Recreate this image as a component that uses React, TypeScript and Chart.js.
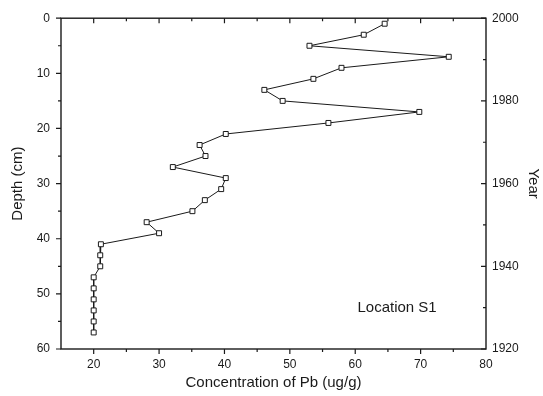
import React, { useEffect, useRef } from 'react';
import { Chart, registerables } from 'chart.js';
Chart.register(...registerables);

const depthCm = [1, 3, 5, 7, 9, 11, 13, 15, 17, 19, 21, 23, 25, 27, 29, 31, 33, 35, 37, 39, 41, 43, 45, 47, 49, 51, 53, 55, 57];
const pbConc = [64.5, 61.3, 53.0, 74.3, 57.9, 53.6, 46.1, 48.9, 69.8, 55.9, 40.2, 36.2, 37.1, 32.1, 40.2, 39.5, 37.0, 35.1, 28.1, 30.0, 21.1, 21.0, 21.0, 20.0, 20.0, 20.0, 20.0, 20.0, 20.0];
const xRange = [15, 80];
const depthRange = [0, 60];
const yearRange = [1920, 2000];
const annotation = 'Location S1';

const FONT = "'Liberation Sans', Arial, sans-serif";
const INK = '#1a1a1a';

const framePlugin = {
  id: 'frameTicks',
  afterDraw(chart: any) {
    const ctx = chart.ctx;
    const a = chart.chartArea;
    const xs = chart.scales.x;
    const ys = chart.scales.y;
    const y2 = chart.scales.y2;
    ctx.save();
    ctx.strokeStyle = INK;
    ctx.lineWidth = 1.4;
    ctx.strokeRect(a.left, a.top, a.right - a.left, a.bottom - a.top);
    ctx.lineWidth = 1.2;
    ctx.beginPath();
    for (let v = xRange[0] + 5; v < xRange[1]; v += 5) {
      const px = xs.getPixelForValue(v);
      const len = v % 10 === 0 ? 5 : 3;
      ctx.moveTo(px, a.bottom);
      ctx.lineTo(px, a.bottom + len);
      ctx.moveTo(px, a.top);
      ctx.lineTo(px, a.top + len);
    }
    for (let v = depthRange[0]; v <= depthRange[1]; v += 5) {
      const py = ys.getPixelForValue(v);
      const len = v % 10 === 0 ? 5 : 3;
      ctx.moveTo(a.left, py);
      ctx.lineTo(a.left - len, py);
    }
    for (let v = yearRange[0]; v <= yearRange[1]; v += 10) {
      const py = y2.getPixelForValue(v);
      const len = v % 20 === 0 ? 5 : 3;
      ctx.moveTo(a.right, py);
      ctx.lineTo(a.right - len, py);
    }
    ctx.stroke();
    ctx.fillStyle = INK;
    ctx.font = `15px ${FONT}`;
    ctx.textAlign = 'center';
    ctx.textBaseline = 'middle';
    ctx.fillText(annotation, xs.getPixelForValue(66.4), ys.getPixelForValue(52.6));
    ctx.restore();
  },
};

export default function App() {
  const ref = useRef<HTMLCanvasElement>(null);
  useEffect(() => {
    const chart = new Chart(ref.current!, {
      type: 'scatter',
      data: {
        datasets: [
          {
            data: depthCm.map((d, i) => ({ x: pbConc[i], y: d })),
            showLine: true,
            borderColor: INK,
            borderWidth: 1,
            pointStyle: 'rect',
            pointRadius: 3.5,
            pointBackgroundColor: '#ffffff',
            pointBorderColor: INK,
            pointBorderWidth: 1,
            yAxisID: 'y',
          },
        ],
      },
      options: {
        animation: false,
        responsive: false,
        maintainAspectRatio: false,
        layout: { padding: { top: 15, left: 0, right: 0, bottom: 0 } },
        plugins: { legend: { display: false }, tooltip: { enabled: false } },
        scales: {
          x: {
            type: 'linear',
            min: xRange[0],
            max: xRange[1],
            grid: { display: false, drawTicks: false },
            border: { display: false },
            ticks: {
              stepSize: 5,
              padding: 8,
              color: INK,
              font: { family: FONT, size: 12 },
              maxRotation: 0,
              autoSkip: false,
              callback: (v: any) => (v % 10 === 0 && v > xRange[0] ? String(v) : ''),
            },
            title: {
              display: true,
              text: 'Concentration of Pb (ug/g)',
              color: INK,
              font: { family: FONT, size: 15 },
              padding: { top: 3, bottom: 4 },
            },
            afterFit: (s: any) => { s.height = 47; },
          },
          y: {
            type: 'linear',
            position: 'left',
            reverse: true,
            min: depthRange[0],
            max: depthRange[1],
            grid: { display: false, drawTicks: false },
            border: { display: false },
            ticks: {
              stepSize: 5,
              padding: 11,
              color: INK,
              font: { family: FONT, size: 12 },
              autoSkip: false,
              callback: (v: any) => (v % 10 === 0 ? String(v) : ''),
            },
            title: {
              display: true,
              text: 'Depth (cm)',
              color: INK,
              font: { family: FONT, size: 15 },
              padding: { top: 9, bottom: 4 },
            },
            afterFit: (s: any) => { s.width = 61; },
          },
          y2: {
            type: 'linear',
            position: 'right',
            min: yearRange[0],
            max: yearRange[1],
            grid: { display: false, drawTicks: false },
            border: { display: false },
            ticks: {
              stepSize: 10,
              padding: 6,
              color: INK,
              font: { family: FONT, size: 12 },
              autoSkip: false,
              callback: (v: any) => (v % 20 === 0 ? String(v) : ''),
            },
            title: {
              display: true,
              text: 'Year',
              color: INK,
              font: { family: FONT, size: 15 },
              padding: { top: 1, bottom: 1 },
            },
            afterFit: (s: any) => { s.width = 57; },
          },
        },
      },
      plugins: [framePlugin],
    });
    return () => chart.destroy();
  }, []);
  return (
    <div style={{ position: 'fixed', left: 0, top: 0, width: 543, height: 396, background: '#fff' }}>
      <canvas ref={ref} width={543} height={396} style={{ width: 543, height: 396 }} />
    </div>
  );
}
